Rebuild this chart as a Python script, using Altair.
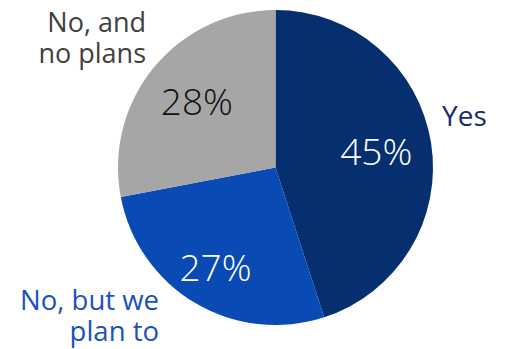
import altair as alt
import pandas as pd

categories = ["Yes", "No, but we plan to", "No, and no plans"]
shares = [45, 27, 28]
pct_labels = ["45%", "27%", "28%"]
display_labels = ["Yes", "No, but we\nplan to", "No, and\nno plans"]
slice_colors = ["#062f70", "#0a4ab4", "#a6a6a6"]
label_colors = ["#1b2c6e", "#1a50bf", "#404040"]

df = pd.DataFrame({
    "category": categories,
    "share": shares,
    "pct": pct_labels,
    "label": display_labels,
    "idx": list(range(len(categories))),
})

CX, CY, R = 275.5, 167.5, 157.5
FONT = "Open Sans"

base = alt.Chart(df).encode(
    theta=alt.Theta("share:Q", stack=True),
    order=alt.Order("idx:Q"),
)

arcs = base.mark_arc(outerRadius=R, x=CX, y=CY).encode(
    color=alt.Color("category:N",
                    scale=alt.Scale(domain=categories, range=slice_colors),
                    legend=None)
)

pct_main = base.mark_text(radius=102, x=CX, y=CY, dy=2, fontSize=37, font=FONT, fontWeight=300,
                          baseline="middle", align="center").encode(
    text=alt.condition(alt.datum.category == categories[1], alt.value(""), alt.Text("pct:N")),
    color=alt.condition(alt.datum.category == categories[2], alt.value("#111111"), alt.value("white")),
)

pct_alt = base.mark_text(radius=118, x=CX, y=CY, dy=1, fontSize=37, font=FONT, fontWeight=300,
                         baseline="middle", align="center", color="white").encode(
    text=alt.condition(alt.datum.category == categories[1], alt.Text("pct:N"), alt.value("")),
)


def outer(cat_i, x, y, align, size):
    return alt.Chart(df).transform_filter(
        alt.datum.category == categories[cat_i]
    ).mark_text(
        x=x, y=y, align=align, baseline="alphabetic", lineBreak="\n",
        lineHeight=31, fontSize=size, font=FONT, color=label_colors[cat_i]
    ).encode(text="label:N")


lab_yes = outer(0, 442, 126, "left", 28)
lab_plan = outer(1, 159, 310, "right", 27.5)
lab_no = outer(2, 146, 32, "right", 27)

chart = alt.layer(arcs, pct_main, pct_alt, lab_yes, lab_plan, lab_no).properties(
    width=507, height=349, autosize="none", padding=0
).configure_view(stroke=None)

chart.save("out.html", embed_options={"renderer": "svg", "actions": False})
